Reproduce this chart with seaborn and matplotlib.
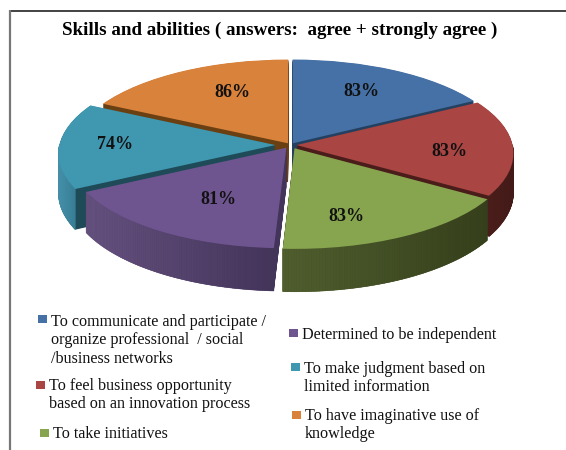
import numpy as np
import matplotlib
matplotlib.use("Agg")
import matplotlib.pyplot as plt
from matplotlib.colors import to_rgb
from matplotlib.patches import Polygon, Rectangle
from matplotlib.transforms import Transform
import seaborn as sns

# Survey results
title = "Skills and abilities ( answers:  agree + strongly agree )"
categories = [
    "To communicate and participate /\norganize professional  / social\n/business networks",
    "To feel business opportunity\nbased on an innovation process",
    "To take initiatives",
    "Determined to be independent",
    "To make judgment based on\nlimited information",
    "To have imaginative use of\nknowledge",
]
values = [83, 83, 83, 81, 74, 86]

# Styling
top_colors = ["#4571A6", "#A94543", "#87A54F", "#6F5590", "#3F97B0", "#D9823C"]
depth_colors = ["#24405F", "#4A1C1A", "#37411C", "#43345A", "#1F4A57", "#6A3F12"]
wall_left = ["#24405F", "#4A1E1A", "#505E2E", "#65517F", "#458FA8", "#6A3F12"]
wall_right = ["#24405F", "#431A18", "#353F1B", "#43345A", "#3A8099", "#6A3F12"]
explode = [0.022, 0.028, 0.04, 0.035, 0.07, 0.022]
label_xy = [(361, 91.5), (449, 151.5), (346, 216.5), (218, 199.5), (115, 144.5), (232, 92.5)]
marker_xy = [(38, 315), (36, 381), (40, 429), (289, 329), (291, 363), (292, 411)]
text_xy = [(51, 321), (49, 385), (53, 433), (302, 334), (304, 368), (305, 415)]

CX, CY, RX, RY, PERSP, DEPTH = 290.5, 145.0, 216.0, 91.3, 0.087, 39.0


class TiltedDisc(Transform):
    """Lays the unit pie on a receding plane, lowered by z, in pixel units."""
    input_dims = 2
    output_dims = 2

    def __init__(self, z=0.0):
        super().__init__()
        self.z = z

    def transform_non_affine(self, values):
        x, y = np.asarray(values, float).T
        s = 1.0 / (1.0 + PERSP * y)
        return np.column_stack((CX + RX * x * s, CY - RY * y * s + self.z * s))


sns.set_theme(style="white")
plt.rcParams["font.family"] = ["Liberation Serif", "DejaVu Serif"]
top_palette = sns.color_palette(top_colors)
depth_palette = sns.color_palette(depth_colors)

fig = plt.figure(figsize=(5.66, 4.5), dpi=100, facecolor="white")
ax = fig.add_axes([0, 0, 1, 1])


def draw_disc(colors, z, zorder):
    wedges, _ = ax.pie(values, explode=explode, colors=colors, startangle=90,
                       counterclock=False, wedgeprops={"linewidth": 0})
    for w in wedges:
        w.set_transform(TiltedDisc(z) + ax.transData)
        w.set_clip_on(False)
        w.set_zorder(zorder)
    return wedges


# Solid body of the disc, built up from the bottom
for z in np.arange(DEPTH, 0, -0.5):
    draw_disc(depth_palette, z, 1)

# Upper face
top_wedges = draw_disc(top_palette, 0.0, 3)

ax.set_aspect("auto")
ax.set_xlim(0, 566)
ax.set_ylim(450, 0)
ax.axis("off")

# Shaded rim on the front half of every slice, rear slices first
top_proj = TiltedDisc(0.0)
low_proj = TiltedDisc(DEPTH)
order = np.argsort([np.sin(np.radians((w.theta1 + w.theta2) / 2)) for w in top_wedges])[::-1]
for i in order:
    w = top_wedges[i]
    angles = np.radians(np.linspace(w.theta1, w.theta2, 90))
    angles = angles[np.sin(angles) <= 0.0]
    if angles.size < 2:
        continue
    pts = np.column_stack((w.center[0] + w.r * np.cos(angles),
                           w.center[1] + w.r * np.sin(angles)))
    upper, lower = top_proj.transform(pts), low_proj.transform(pts)
    xs = upper[:, 0]
    span = max(xs.max() - xs.min(), 1.0)
    c0, c1 = np.array(to_rgb(wall_left[i])), np.array(to_rgb(wall_right[i]))
    for k in range(len(pts) - 1):
        t = (0.5 * (xs[k] + xs[k + 1]) - xs.min()) / span
        quad = [upper[k], upper[k + 1], lower[k + 1], lower[k]]
        col = c0 + (c1 - c0) * t
        ax.add_patch(Polygon(quad, closed=True, facecolor=col, edgecolor=col,
                             linewidth=0.4, zorder=2 + 0.01 * int(np.where(order == i)[0][0])))

# Value labels
for v, (x, y) in zip(values, label_xy):
    ax.text(x, y, f"{v}%", ha="center", va="center", fontsize=13,
            fontweight="bold", color="#111111", zorder=5)

# Title and outer frame
ax.text(62, 30, title, ha="left", va="center", fontsize=13.7, fontweight="bold", color="black")
ax.plot([9, 566], [10.5, 10.5], color="#222222", lw=1.2, solid_capstyle="butt", zorder=6)
ax.plot([9.5, 9.5], [10, 450], color="#777777", lw=1.6, solid_capstyle="butt", zorder=6)

# Legend laid out in two loose columns
for label, color, (mx, my), (tx, ty) in zip(categories, top_palette, marker_xy, text_xy):
    ax.add_patch(Rectangle((mx, my), 8.5, 8, facecolor=color, edgecolor="none", zorder=5))
    ax.text(tx, ty - 7, label, ha="left", va="top", fontsize=11.6, color="#111111",
            linespacing=1.19, zorder=5)

fig.savefig("out.png", dpi=100, facecolor="white")
